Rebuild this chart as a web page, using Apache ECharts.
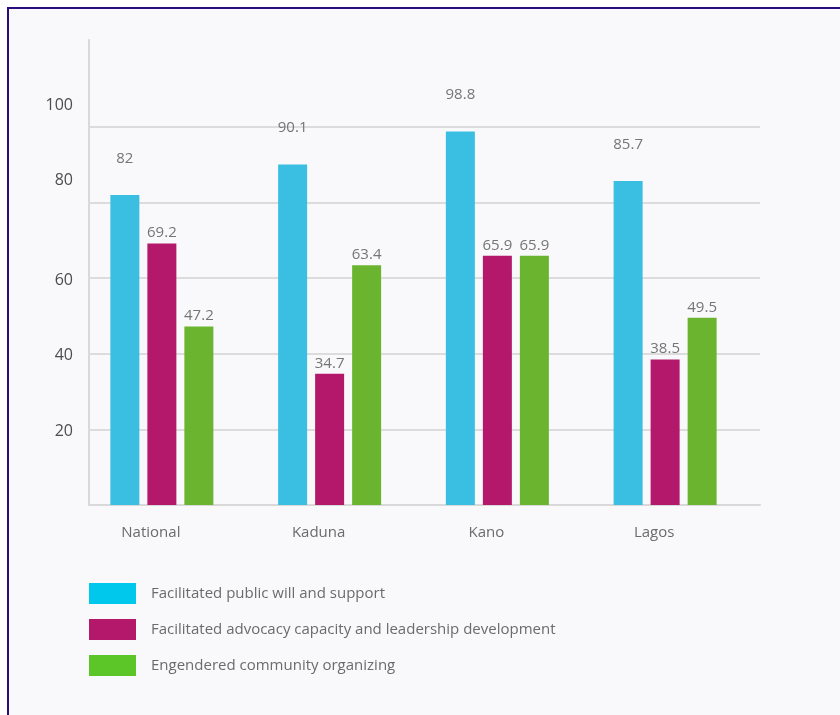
<!DOCTYPE html>
<html>
<head>
<meta charset="utf-8">
<script src="https://cdn.jsdelivr.net/npm/echarts@6/dist/echarts.min.js"></script>
<style>
  html, body { margin: 0; padding: 0; background: #ffffff; overflow: hidden; }
  #frame {
    position: absolute; left: 7px; top: 7px; width: 900px; height: 800px;
    border: 2px solid #2b0c7c; background: #f9f9fc;
  }
  #chart { position: absolute; left: 0; top: 0; width: 840px; height: 715px; }
</style>
</head>
<body>
<div id="frame"></div>
<div id="chart"></div>
<script>
// Regions surveyed
const categories = ['National', 'Kaduna', 'Kano', 'Lagos'];

// Share of respondents (%) for each outcome
const publicWill = [82, 90.1, 98.8, 85.7];
const advocacyCapacity = [69.2, 34.7, 65.9, 38.5];
const communityOrganizing = [47.2, 63.4, 65.9, 49.5];

const seriesNames = [
  'Facilitated public will and support',
  'Facilitated advocacy capacity and leadership development',
  'Engendered community organizing'
];

// Value-axis tick labels and their reference lines
const yTicks = [20, 40, 60, 80, 100];
const raisedTicks = [80, 100];

const barColors = ['#3abfe3', '#b4186a', '#6bb430'];
const legendColors = ['#00c8ec', '#b4186a', '#5cc527'];

const chart = echarts.init(document.getElementById('chart'), null, { renderer: 'canvas' });

const font = 'Open Sans';

function barSeries(name, data, color, labelDistance) {
  return {
    name: name,
    type: 'bar',
    data: data,
    barWidth: 29,
    barGap: '27.6%',
    z: 2,
    itemStyle: { color: color },
    label: {
      show: true,
      position: 'top',
      distance: labelDistance,
      fontFamily: font,
      fontSize: 15,
      color: '#757575'
    }
  };
}

const option = {
  backgroundColor: 'transparent',
  animation: false,
  grid: { left: 89, right: 80, top: 40, bottom: 210 },
  legend: {
    orient: 'vertical',
    left: 89,
    top: 583,
    padding: 0,
    itemWidth: 47,
    itemHeight: 21,
    itemGap: 15,
    icon: 'rect',
    selectedMode: false,
    textStyle: { fontFamily: font, fontSize: 15, color: '#6b6b6b', padding: [6, 0, 0, 10] },
    data: seriesNames.map((n, i) => ({ name: n, itemStyle: { color: legendColors[i] } }))
  },
  xAxis: {
    type: 'category',
    data: categories,
    axisLine: { show: true, lineStyle: { color: '#d9d9d9', width: 2 } },
    axisTick: { show: false },
    axisLabel: {
      fontFamily: font,
      fontSize: 15,
      color: '#6b6b6b',
      margin: 20,
      padding: [0, 44, 0, 0]
    }
  },
  yAxis: {
    type: 'value',
    min: 0,
    max: 123,
    interval: 20,
    axisLine: { show: true, lineStyle: { color: '#d9d9d9', width: 2 } },
    axisTick: { show: false },
    splitLine: { show: false },
    axisLabel: {
      fontFamily: font,
      fontSize: 16,
      color: '#4d4d4d',
      margin: 16,
      formatter: function (v) {
        if (yTicks.indexOf(v) < 0) return '';
        return raisedTicks.indexOf(v) >= 0 ? '{up|' + v + '}' : '{n|' + v + '}';
      },
      rich: {
        up: { fontFamily: font, fontSize: 16, color: '#4d4d4d', padding: [0, 0, 44, 0] },
        n: { fontFamily: font, fontSize: 16, color: '#4d4d4d', padding: [0, 0, -4, 0] }
      }
    }
  },
  series: [
    barSeries(seriesNames[0], publicWill, barColors[0], 29),
    barSeries(seriesNames[1], advocacyCapacity, barColors[1], 3),
    barSeries(seriesNames[2], communityOrganizing, barColors[2], 3),
    {
      // empty slot that sets the group's spacing and carries the reference lines
      type: 'bar',
      data: [],
      barWidth: 14,
      z: 1,
      markLine: {
        z: 1,
        silent: true,
        symbol: 'none',
        label: { show: false },
        lineStyle: { color: '#dcdcdc', width: 2, type: 'solid' },
        data: yTicks.map(v => ({ yAxis: v }))
      }
    }
  ]
};

chart.setOption(option);
</script>
</body>
</html>
